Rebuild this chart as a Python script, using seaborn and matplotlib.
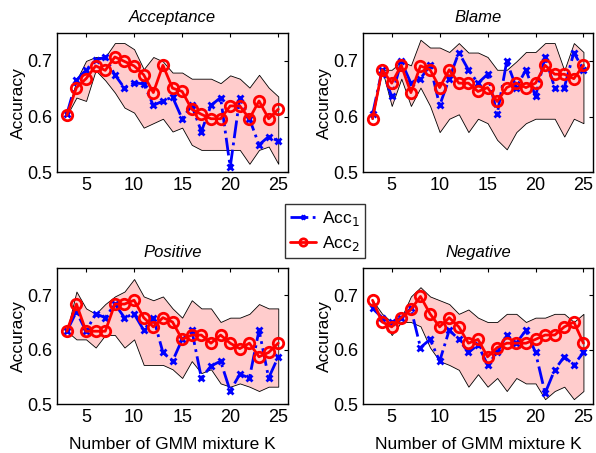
import matplotlib
matplotlib.use('Agg')
import matplotlib.pyplot as plt
import numpy as np
import pandas as pd
import seaborn as sns

K = list(range(3, 26))

# Acceptance
acc_a1 = [0.604, 0.665, 0.684, 0.701, 0.707, 0.675, 0.651, 0.660, 0.659, 0.620, 0.628, 0.635,
          0.596, 0.620, 0.573, 0.620, 0.634, 0.509, 0.634, 0.596, 0.549, 0.564, 0.556]
acc_a2 = [0.602, 0.652, 0.668, 0.691, 0.683, 0.707, 0.699, 0.691, 0.675, 0.643, 0.692, 0.651,
          0.645, 0.613, 0.604, 0.596, 0.596, 0.619, 0.619, 0.596, 0.628, 0.596, 0.613]
acc_hi = [0.604, 0.665, 0.700, 0.707, 0.707, 0.732, 0.732, 0.721, 0.685, 0.707, 0.699, 0.679,
          0.679, 0.668, 0.668, 0.668, 0.660, 0.674, 0.668, 0.652, 0.675, 0.652, 0.636]
acc_lo = [0.602, 0.634, 0.628, 0.683, 0.665, 0.643, 0.616, 0.607, 0.580, 0.588, 0.596, 0.573,
          0.580, 0.549, 0.540, 0.540, 0.540, 0.540, 0.540, 0.515, 0.540, 0.546, 0.515]

# Blame
bla_a1 = [0.604, 0.684, 0.636, 0.699, 0.660, 0.668, 0.692, 0.620, 0.668, 0.715, 0.684, 0.660,
          0.676, 0.604, 0.699, 0.652, 0.684, 0.636, 0.707, 0.652, 0.652, 0.715, 0.684]
bla_a2 = [0.596, 0.684, 0.660, 0.692, 0.643, 0.691, 0.684, 0.652, 0.684, 0.660, 0.660, 0.645,
          0.652, 0.627, 0.652, 0.660, 0.652, 0.660, 0.692, 0.676, 0.676, 0.668, 0.692]
bla_hi = [0.604, 0.684, 0.684, 0.699, 0.692, 0.738, 0.724, 0.724, 0.716, 0.732, 0.715, 0.715,
          0.707, 0.684, 0.684, 0.699, 0.716, 0.716, 0.732, 0.732, 0.683, 0.732, 0.716]
bla_lo = [0.596, 0.684, 0.619, 0.668, 0.619, 0.652, 0.619, 0.572, 0.596, 0.604, 0.572, 0.596,
          0.588, 0.558, 0.541, 0.572, 0.588, 0.596, 0.596, 0.596, 0.564, 0.596, 0.588]

# Positive
pos_a1 = [0.634, 0.670, 0.634, 0.666, 0.659, 0.684, 0.659, 0.666, 0.636, 0.659, 0.595, 0.579,
          0.619, 0.636, 0.548, 0.570, 0.579, 0.524, 0.555, 0.548, 0.636, 0.548, 0.587]
pos_a2 = [0.634, 0.684, 0.634, 0.634, 0.634, 0.684, 0.684, 0.691, 0.659, 0.642, 0.659, 0.651,
          0.619, 0.627, 0.627, 0.612, 0.627, 0.612, 0.602, 0.612, 0.587, 0.595, 0.612]
pos_hi = [0.634, 0.707, 0.676, 0.666, 0.684, 0.698, 0.707, 0.730, 0.698, 0.691, 0.698, 0.676,
          0.659, 0.691, 0.676, 0.676, 0.651, 0.659, 0.659, 0.666, 0.684, 0.676, 0.676]
pos_lo = [0.634, 0.619, 0.619, 0.604, 0.627, 0.627, 0.604, 0.619, 0.572, 0.572, 0.572, 0.564,
          0.548, 0.579, 0.557, 0.564, 0.538, 0.532, 0.538, 0.532, 0.524, 0.532, 0.532]

# Negative
neg_a1 = [0.676, 0.659, 0.651, 0.659, 0.676, 0.604, 0.619, 0.579, 0.636, 0.619, 0.595, 0.609,
          0.572, 0.595, 0.627, 0.612, 0.636, 0.595, 0.520, 0.563, 0.587, 0.572, 0.595]
neg_a2 = [0.691, 0.651, 0.642, 0.659, 0.674, 0.698, 0.666, 0.642, 0.659, 0.642, 0.612, 0.619,
          0.587, 0.604, 0.612, 0.612, 0.612, 0.619, 0.627, 0.627, 0.642, 0.651, 0.612]
neg_hi = [0.691, 0.666, 0.651, 0.659, 0.698, 0.715, 0.698, 0.691, 0.684, 0.666, 0.674, 0.659,
          0.651, 0.651, 0.666, 0.666, 0.651, 0.659, 0.659, 0.666, 0.666, 0.651, 0.666]
neg_lo = [0.676, 0.659, 0.627, 0.651, 0.651, 0.643, 0.604, 0.579, 0.572, 0.563, 0.532, 0.555,
          0.532, 0.548, 0.524, 0.548, 0.538, 0.538, 0.509, 0.524, 0.532, 0.509, 0.524]

panels = [
    ("Acceptance", acc_a1, acc_a2, acc_hi, acc_lo),
    ("Blame", bla_a1, bla_a2, bla_hi, bla_lo),
    ("Positive", pos_a1, pos_a2, pos_hi, pos_lo),
    ("Negative", neg_a1, neg_a2, neg_hi, neg_lo),
]

sns.set_style('white')
plt.rcParams['font.family'] = ['Liberation Sans', 'DejaVu Sans']
plt.rcParams['xtick.direction'] = 'in'
plt.rcParams['ytick.direction'] = 'in'
plt.rcParams['text.color'] = 'black'
plt.rcParams['axes.labelcolor'] = 'black'
plt.rcParams['xtick.color'] = 'black'
plt.rcParams['ytick.color'] = 'black'

fig = plt.figure(figsize=(5.96, 4.53), dpi=100)
positions = [
    [0.096, 0.620, 0.387, 0.307],
    [0.609, 0.620, 0.386, 0.307],
    [0.096, 0.108, 0.387, 0.300],
    [0.609, 0.108, 0.386, 0.300],
]

for i, (name, a1, a2, hi, lo) in enumerate(panels):
    ax = fig.add_axes(positions[i])
    ax.fill_between(K, lo, hi, facecolor='#ffcccc', edgecolor='black', linewidth=0.6)
    sns.lineplot(x=K, y=a1, ax=ax, color='blue', linestyle='-.', linewidth=2,
                 marker='x', markersize=5, markeredgewidth=2, markeredgecolor='blue',
                 label='Acc$_1$')
    sns.lineplot(x=K, y=a2, ax=ax, color='red', linestyle='-', linewidth=2,
                 marker='o', markersize=7.5, markerfacecolor='none', markeredgewidth=2,
                 markeredgecolor='red', label='Acc$_2$')
    ax.set_xlim(2, 26)
    ax.set_ylim(0.5, 0.75)
    ax.set_xticks([5, 10, 15, 20, 25])
    ax.set_yticks([0.5, 0.6, 0.7])
    ax.set_yticklabels(['0.5', '0.6', '0.7'])
    ax.tick_params(labelsize=13, length=3, top=True, right=True)
    for s in ax.spines.values():
        s.set_color('black')
        s.set_linewidth(1)
    ax.set_title(name, fontsize=12, style='italic', pad=8)
    ax.set_ylabel('Accuracy', fontsize=12.5, labelpad=1)
    if i >= 2:
        ax.set_xlabel('Number of GMM mixture K', fontsize=12.5, labelpad=8)
    handles, labels = ax.get_legend_handles_labels()
    ax.get_legend().remove()

leg = fig.legend(handles, labels, loc='center', bbox_to_anchor=(0.545, 0.49),
                 fontsize=12.5, frameon=True, fancybox=False, edgecolor='black',
                 handlelength=1.5, handletextpad=0.3, borderpad=0.3, labelspacing=0.3,
                 markerscale=0.7)
leg.get_frame().set_linewidth(1)

fig.savefig('out.png', dpi=100)
